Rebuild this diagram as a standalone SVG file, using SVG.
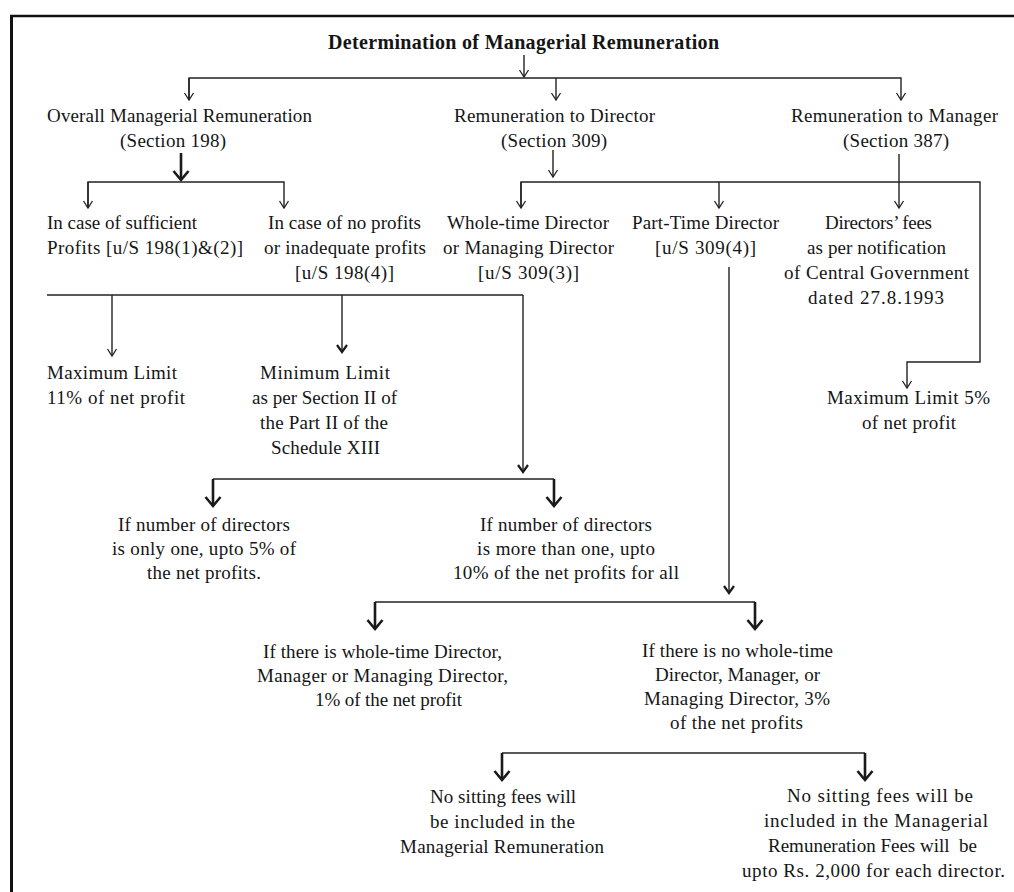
<svg xmlns="http://www.w3.org/2000/svg" width="1014" height="892" viewBox="0 0 1014 892">
<style>
text{font-family:"Liberation Serif","Times New Roman",serif;font-size:19px;fill:#151515}
.t{font-weight:bold;font-size:20px}
.m{text-anchor:middle}
.c{fill:none;stroke:#222;stroke-width:1.4}
.b{fill:none;stroke:#1a1a1a;stroke-width:2.6}
.frame{fill:none;stroke:#111}
</style>
<defs>
<marker id="aThin" markerUnits="userSpaceOnUse" orient="auto" overflow="visible" refX="0" refY="0" markerWidth="1" markerHeight="1">
<path d="M-7,-4.5 L0,0 L-7,4.5" fill="none" stroke="#222" stroke-width="1.3"/>
</marker>
<marker id="aMed" markerUnits="userSpaceOnUse" orient="auto" overflow="visible" refX="0" refY="0" markerWidth="1" markerHeight="1">
<path d="M-7,-5 L0,0 L-7,5" fill="none" stroke="#1a1a1a" stroke-width="2.2"/>
</marker>
<marker id="aBold" markerUnits="userSpaceOnUse" orient="auto" overflow="visible" refX="0" refY="0" markerWidth="1" markerHeight="1">
<path d="M-9,-7.5 L0,0 L-9,7.5" fill="none" stroke="#1a1a1a" stroke-width="2.6"/>
</marker>
</defs>
<rect x="0" y="0" width="1014" height="892" fill="#ffffff"/>
<g id="frame">
<line class="frame" x1="10" y1="16" x2="1014" y2="16" stroke-width="2.5"/>
<line class="frame" x1="11.5" y1="15" x2="11.5" y2="892" stroke-width="3"/>
</g>
<g id="connectors">
<line class="c" x1="524" y1="55" x2="524" y2="77" marker-end="url(#aThin)"/>
<polyline class="c" points="189,100 189,78 901,78 901,100" marker-end="url(#aThin)"/>
<line class="c" x1="189" y1="78" x2="189" y2="100" marker-end="url(#aThin)"/>
<line class="c" x1="556" y1="78" x2="556" y2="100" marker-end="url(#aThin)"/>
<line class="b" x1="181" y1="153" x2="181" y2="180" marker-end="url(#aBold)"/>
<polyline class="c" points="88,208 88,182 284,182 284,208" marker-end="url(#aThin)"/>
<line class="c" x1="88" y1="182" x2="88" y2="208" marker-end="url(#aThin)"/>
<line class="c" x1="553" y1="150" x2="553" y2="177" marker-end="url(#aThin)"/>
<polyline class="c" points="521,208 521,182 980,182 980,362 907,362 907,388" marker-end="url(#aThin)"/>
<line class="c" x1="521" y1="182" x2="521" y2="208" marker-end="url(#aThin)"/>
<line class="c" x1="719" y1="182" x2="719" y2="208" marker-end="url(#aThin)"/>
<line class="c" x1="899" y1="154" x2="899" y2="208" marker-end="url(#aThin)"/>
<line class="c" x1="47" y1="295" x2="523" y2="295"/>
<line class="c" x1="112" y1="295" x2="112" y2="356" marker-end="url(#aThin)"/>
<line class="c" x1="342" y1="295" x2="342" y2="352" marker-end="url(#aMed)"/>
<line class="c" x1="523" y1="295" x2="523" y2="472" marker-end="url(#aMed)"/>
<line class="c" x1="213" y1="479" x2="554" y2="479"/>
<line class="b" x1="213" y1="479" x2="213" y2="506" marker-end="url(#aBold)"/>
<line class="b" x1="554" y1="479" x2="554" y2="506" marker-end="url(#aBold)"/>
<line class="c" x1="729" y1="267" x2="729" y2="593" marker-end="url(#aMed)"/>
<line class="c" x1="375" y1="602" x2="755" y2="602"/>
<line class="b" x1="375" y1="602" x2="375" y2="629" marker-end="url(#aBold)"/>
<line class="b" x1="755" y1="602" x2="755" y2="629" marker-end="url(#aBold)"/>
<line class="c" x1="502" y1="753" x2="865" y2="753"/>
<line class="b" x1="502" y1="753" x2="502" y2="780" marker-end="url(#aBold)"/>
<line class="b" x1="865" y1="753" x2="865" y2="780" marker-end="url(#aBold)"/>
</g>
<g id="title"><text class="t m" x="523.5" y="49" textLength="391">Determination of Managerial Remuneration</text></g>
<g id="overall">
<text x="47" y="122" textLength="265">Overall Managerial Remuneration</text>
<text class="m" x="173" y="147" textLength="106">(Section 198)</text>
</g>
<g id="director">
<text class="m" x="554.5" y="122" textLength="201">Remuneration to Director</text>
<text class="m" x="554" y="147" textLength="106">(Section 309)</text>
</g>
<g id="manager">
<text class="m" x="894.5" y="122" textLength="207">Remuneration to Manager</text>
<text class="m" x="896" y="147" textLength="106">(Section 387)</text>
</g>
<g id="sufficient">
<text x="47" y="229" textLength="150">In case of sufficient</text>
<text x="47" y="254" textLength="196">Profits [u/S 198(1)&amp;(2)]</text>
</g>
<g id="inadequate">
<text class="m" x="344.5" y="229" textLength="153">In case of no profits</text>
<text class="m" x="345" y="254" textLength="162">or inadequate profits</text>
<text class="m" x="344.5" y="279" textLength="99">[u/S 198(4)]</text>
</g>
<g id="wholetime">
<text class="m" x="528" y="229" textLength="162">Whole-time Director</text>
<text class="m" x="528.5" y="254" textLength="171">or Managing Director</text>
<text class="m" x="528.5" y="279" textLength="101">[u/S 309(3)]</text>
</g>
<g id="parttime">
<text class="m" x="705.5" y="229" textLength="147">Part-Time Director</text>
<text class="m" x="705.5" y="254" textLength="101">[u/S 309(4)]</text>
</g>
<g id="fees">
<text class="m" x="878.5" y="229" textLength="107">Directors’ fees</text>
<text class="m" x="876.5" y="254" textLength="139">as per notification</text>
<text class="m" x="876.5" y="279" textLength="185">of Central Government</text>
<text class="m" x="876" y="304" textLength="136">dated 27.8.1993</text>
</g>
<g id="max11">
<text x="47" y="379" textLength="130">Maximum Limit</text>
<text x="47" y="404" textLength="138">11% of net profit</text>
</g>
<g id="minlimit">
<text class="m" x="325" y="379" textLength="130">Minimum Limit</text>
<text class="m" x="324.5" y="404" textLength="145">as per Section II of</text>
<text class="m" x="324" y="429" textLength="128">the Part II of the</text>
<text class="m" x="325.5" y="454" textLength="109">Schedule XIII</text>
</g>
<g id="max5">
<text class="m" x="908.5" y="404" textLength="163">Maximum Limit 5%</text>
<text class="m" x="909" y="429" textLength="94">of net profit</text>
</g>
<g id="onedirector">
<text class="m" x="204" y="531" textLength="172">If number of directors</text>
<text class="m" x="204" y="555" textLength="184">is only one, upto 5% of</text>
<text class="m" x="204" y="579" textLength="114">the net profits.</text>
</g>
<g id="moredirectors">
<text class="m" x="566" y="531" textLength="172">If number of directors</text>
<text class="m" x="566" y="555" textLength="178">is more than one, upto</text>
<text class="m" x="566" y="579" textLength="226">10% of the net profits for all</text>
</g>
<g id="withwtd">
<text class="m" x="382.5" y="658" textLength="239">If there is whole-time Director,</text>
<text class="m" x="382.5" y="682" textLength="251">Manager or Managing Director,</text>
<text class="m" x="388.5" y="706" textLength="147">1% of the net profit</text>
</g>
<g id="nowtd">
<text class="m" x="737.5" y="657" textLength="191">If there is no whole-time</text>
<text class="m" x="737.5" y="681" textLength="165">Director, Manager, or</text>
<text class="m" x="737" y="705" textLength="186">Managing Director, 3%</text>
<text class="m" x="736.5" y="729" textLength="133">of the net profits</text>
</g>
<g id="nofees1">
<text class="m" x="503" y="803" textLength="146">No sitting fees will</text>
<text class="m" x="502.5" y="828" textLength="145">be included in the</text>
<text class="m" x="502" y="853" textLength="204">Managerial Remuneration</text>
</g>
<g id="nofees2">
<text class="m" x="880" y="802" textLength="186">No sitting fees will be</text>
<text class="m" x="876" y="827" textLength="224">included in the Managerial</text>
<text class="m" x="872.5" y="852" textLength="209" xml:space="preserve">Remuneration Fees will  be</text>
<text class="m" x="873.5" y="877" textLength="263">upto Rs. 2,000 for each director.</text>
</g>
</svg>
